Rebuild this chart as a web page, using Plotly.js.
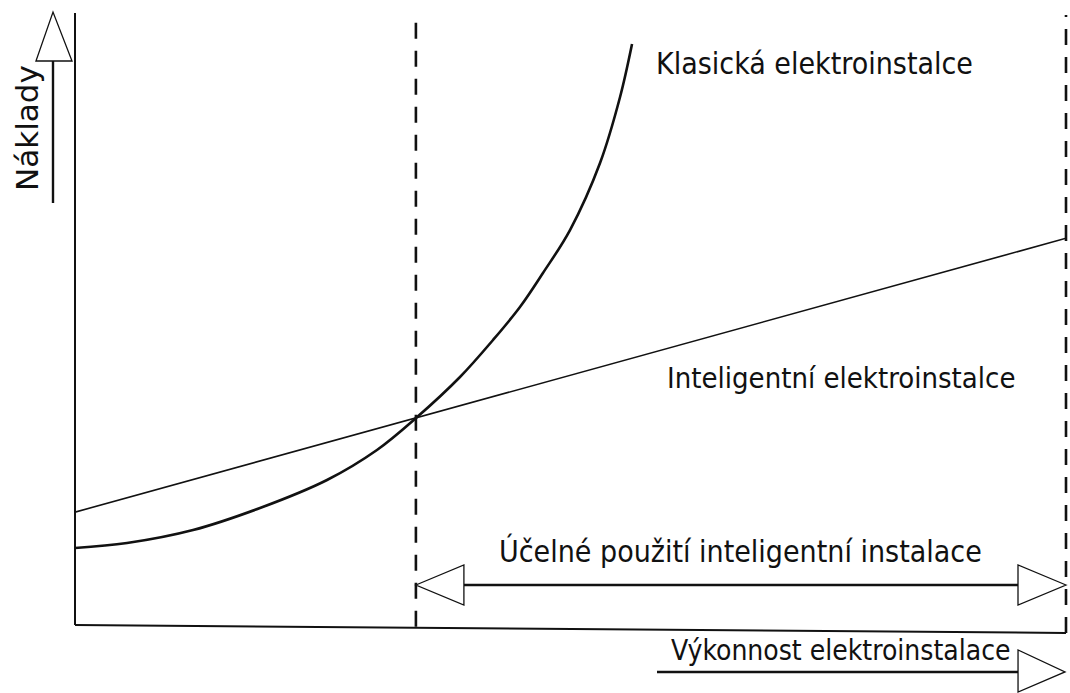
<!DOCTYPE html>
<html>
<head>
<meta charset="utf-8">
<script src="https://cdn.plot.ly/plotly-3.0.1.min.js"></script>
<style>html,body{margin:0;padding:0;background:#fff;}#chart{width:1070px;height:693px;}</style>
</head>
<body>
<div id="chart"></div>
<script>
// Performance (x, 0..10) and costs (y, 0..100)
const classicX = [0, 0.525, 1.191, 1.867, 2.543, 3.047, 3.441, 3.885, 4.218, 4.490, 4.722, 4.995, 5.298, 5.500, 5.621];
const classicY = [12.62, 13.44, 15.57, 19.18, 23.77, 28.69, 33.93, 40.66, 46.72, 52.13, 57.70, 64.75, 75.74, 86.56, 95.25];
const smartX = [0, 10];
const smartY = [18.5, 63.4];
const breakEvenX = 3.44;
const endX = 10;
const rangeArrowY = 6.56;

const labels = {
  classic: "Klasická elektroinstalce",
  smart: "Inteligentní elektroinstalce",
  range: "Účelné použití inteligentní instalace",
  xTitle: "Výkonnost elektroinstalace",
  yTitle: "Náklady"
};

const FONT = "DejaVu Sans Condensed, DejaVu Sans, sans-serif";
const XR = [0, 10], YR = [0, 100];
const px = x => (x - XR[0]) / (XR[1] - XR[0]);
const py = y => (y - YR[0]) / (YR[1] - YR[0]);

const traces = [
  {x: smartX, y: smartY, mode: 'lines', line: {color: '#111', width: 1.6}, hoverinfo: 'skip'},
  {x: classicX, y: classicY, mode: 'lines', line: {color: '#111', width: 2.6, shape: 'spline', smoothing: 1}, hoverinfo: 'skip'}
];

const black = '#111';
const shapes = [];
// vertical axis
shapes.push({type: 'line', xref: 'paper', yref: 'paper', x0: 0, x1: 0, y0: 0, y1: 1.0033, line: {color: black, width: 2}});
// bottom axis (slightly sloped)
shapes.push({type: 'line', xref: 'paper', yref: 'paper', x0: 0, x1: px(endX), y0: 0, y1: -0.0131, line: {color: black, width: 2}});
// dashed verticals
shapes.push({type: 'line', xref: 'paper', yref: 'paper', x0: px(breakEvenX), x1: px(breakEvenX), y0: -0.003, y1: 1.0, line: {color: black, width: 2.6, dash: '16px,12px'}});
shapes.push({type: 'line', xref: 'paper', yref: 'paper', x0: px(endX), x1: px(endX), y0: -0.0131, y1: 1.0, line: {color: black, width: 2.6, dash: '16px,12px'}});

// double arrow between break-even and end
const hx = 48 / 991, hy = 20 / 610;
const ay = py(rangeArrowY);
const xl = px(breakEvenX), xr = px(endX);
shapes.push({type: 'line', xref: 'paper', yref: 'paper', x0: xl + hx, x1: xr - hx, y0: ay, y1: ay, line: {color: black, width: 2.6}});
shapes.push({type: 'path', xref: 'paper', yref: 'paper', path: `M ${xl},${ay} L ${xl + hx},${ay + hy} L ${xl + hx},${ay - hy} Z`, fillcolor: '#fff', line: {color: black, width: 1.3}});
shapes.push({type: 'path', xref: 'paper', yref: 'paper', path: `M ${xr},${ay} L ${xr - hx},${ay + hy} L ${xr - hx},${ay - hy} Z`, fillcolor: '#fff', line: {color: black, width: 1.3}});

// y-title arrow
shapes.push({type: 'line', xref: 'paper', yref: 'paper', x0: -0.0222, x1: -0.0222, y0: 0.6918, y1: 0.9246, line: {color: black, width: 2.4}});
shapes.push({type: 'path', xref: 'paper', yref: 'paper', path: 'M -0.0394,0.9246 L -0.0030,0.9246 L -0.0222,1.0049 Z', fillcolor: '#fff', line: {color: black, width: 1.3}});
// x-title arrow
shapes.push({type: 'line', xref: 'paper', yref: 'paper', x0: 0.5873, x1: 0.9516, y0: -0.0770, y1: -0.0770, line: {color: black, width: 2.4}});
shapes.push({type: 'path', xref: 'paper', yref: 'paper', path: 'M 0.9516,-0.0410 L 0.9516,-0.1098 L 0.999,-0.0770 Z', fillcolor: '#fff', line: {color: black, width: 1.3}});

const f = {family: FONT, size: 29, color: '#111'};
const f30 = {family: FONT, size: 30, color: '#111'};
const annotations = [
  {text: labels.classic, xref: 'paper', yref: 'paper', x: 0.584, y: 0.921, xanchor: 'left', yanchor: 'middle', showarrow: false, font: f30},
  {text: labels.smart, xref: 'paper', yref: 'paper', x: 0.595, y: 0.405, xanchor: 'left', yanchor: 'middle', showarrow: false, font: f},
  {text: labels.range, xref: 'paper', yref: 'paper', x: 0.672, y: 0.121, xanchor: 'center', yanchor: 'middle', showarrow: false, font: f30},
  {text: labels.xTitle, xref: 'paper', yref: 'paper', x: 0.773, y: -0.041, xanchor: 'center', yanchor: 'middle', showarrow: false, font: {family: FONT, size: 28, color: '#111'}},
  {text: labels.yTitle, xref: 'paper', yref: 'paper', x: -0.0484, y: 0.815, xanchor: 'center', yanchor: 'middle', textangle: -90, showarrow: false, font: {family: "DejaVu Sans, sans-serif", size: 31, color: '#111'}}
];

const layout = {
  width: 1070, height: 693,
  margin: {l: 75, r: 4, t: 15, b: 68},
  paper_bgcolor: '#fff', plot_bgcolor: '#fff',
  showlegend: false,
  xaxis: {range: XR, visible: false, fixedrange: true},
  yaxis: {range: YR, visible: false, fixedrange: true},
  shapes: shapes,
  annotations: annotations
};

Plotly.newPlot('chart', traces, layout, {displayModeBar: false, staticPlot: true});
</script>
</body>
</html>
